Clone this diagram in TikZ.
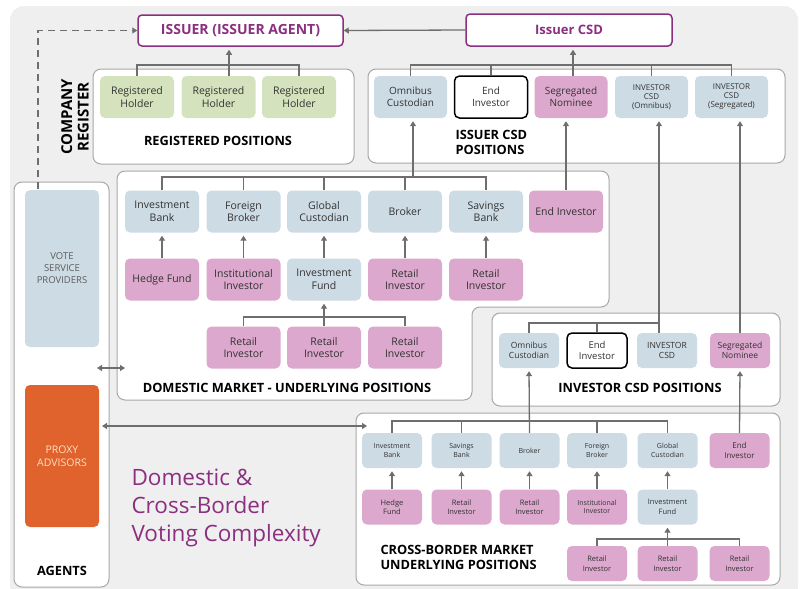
\documentclass[tikz,border=0pt]{standalone}
\usepackage{fontspec}
\setmainfont{Open Sans}
\usetikzlibrary{arrows.meta}
\definecolor{bggray}{HTML}{EFEFEF}
\definecolor{panelline}{HTML}{A8A8A8}
\definecolor{boxblue}{HTML}{CDDBE5}
\definecolor{boxpink}{HTML}{DCA8CD}
\definecolor{boxgreen}{HTML}{D4E3BD}
\definecolor{proxyorange}{HTML}{E0632E}
\definecolor{issuerpurple}{HTML}{8B2F80}
\definecolor{linegray}{HTML}{6E6E6E}
\definecolor{boxtext}{HTML}{333333}
\tikzset{
  every picture/.style={x=1pt,y=-1pt},
  hbox/.style={rounded corners=5pt, minimum width=74pt, minimum height=42pt, align=center, inner sep=1pt, text=boxtext, font=\fontsize{10.5}{12.5}\selectfont},
  sbox/.style={hbox, minimum width=60pt, minimum height=35pt, font=\fontsize{7}{8.5}\selectfont},
  blu/.style={fill=boxblue},
  pnk/.style={fill=boxpink},
  grn/.style={fill=boxgreen},
  endinv/.style={fill=white, draw=black, line width=1.5pt},
  topbox/.style={draw=issuerpurple, line width=1.5pt, fill=white, rounded corners=4pt, text=issuerpurple, font=\fontsize{13}{15}\selectfont\bfseries},
  panel/.style={draw=panelline, line width=1pt, fill=white, rounded corners=8pt},
  lbl/.style={font=\fontsize{12.8}{15}\selectfont\bfseries, text=black, align=left},
  link/.style={draw=linegray, line width=1.3pt},
  uparr/.style={link, -{Triangle[width=6pt,length=5pt]}, shorten >=3pt},
  twoarr/.style={link, {Triangle[width=6pt,length=5pt]}-{Triangle[width=6pt,length=5pt]}},
}
\begin{document}
\begin{tikzpicture}
\useasboundingbox (0,0) rectangle (804,589);
\fill[bggray, rounded corners=14pt] (10,6) rectangle (798,600);

% panels
\draw[panel] (93,69) rectangle (354,164);
\draw[panel] (368,69) rectangle (785,163);
\draw[panel] (14,182) rectangle (109,587);
\draw[panel] (117,171) -- (609,171) -- (609,307) -- (472,307) -- (472,400) -- (117,400) -- cycle;
\draw[panel] (492,313) rectangle (780,406);
\draw[panel] (356,413) rectangle (780,585);

% top
\node[topbox, minimum width=205pt, minimum height=31pt, font=\fontsize{14}{16}\selectfont\bfseries] (iss) at (240.5,30.5) {ISSUER (ISSUER AGENT)};
\node[topbox, minimum width=206pt, minimum height=32pt] (icsd) at (569,30) {Issuer CSD};
\draw[uparr, shorten >=0pt] (icsd.west) -- (iss.east);

% company register
\node[hbox, grn] (rh1) at (137,97) {Registered\\Holder};
\node[hbox, grn] (rh2) at (218.5,97) {Registered\\Holder};
\node[hbox, grn] (rh3) at (299,97) {Registered\\Holder};
\node[lbl] (regpos) at (218,141) {REGISTERED POSITIONS};
\node[lbl, rotate=90, align=center, font=\fontsize{15}{16.5}\selectfont\bfseries] (compreg) at (75,117) {COMPANY\\REGISTER};
\coordinate (rt) at (229,65);
\draw[link] (rh1.north) -- (rh1.north |- rt) -- (rh3.north |- rt) -- (rh3.north);
\draw[uparr] (rh2.north -| rt) -- (iss.south -| rt);

% issuer csd positions
\node[hbox, blu, minimum width=73pt, font=\fontsize{10}{12}\selectfont] (omc) at (410.5,97) {Omnibus\\Custodian};
\node[hbox, endinv, minimum width=73pt, font=\fontsize{10}{12}\selectfont] (eiv) at (491,97) {End\\Investor};
\node[hbox, pnk, minimum width=73pt, font=\fontsize{10}{12}\selectfont] (sgn) at (571,97) {Segregated\\Nominee};
\node[hbox, blu, minimum width=73pt, font=\fontsize{8}{9}\selectfont] (icso) at (651.5,97) {INVESTOR\\CSD\\(Omnibus)};
\node[hbox, blu, minimum width=73pt, font=\fontsize{8}{9}\selectfont] (icss) at (731.5,97) {INVESTOR\\CSD\\(Segregated)};
\node[lbl, anchor=west] (icsdpos) at (452,142) {ISSUER CSD\\POSITIONS};
\coordinate (ct) at (573,65);
\draw[link] (omc.north) -- (omc.north |- ct) -- (icss.north |- ct) -- (icss.north);
\draw[link] (eiv.north) -- (eiv.north |- ct);
\draw[link] (icso.north) -- (icso.north |- ct);
\draw[uparr] (sgn.north -| ct) -- (icsd.south -| ct);

% agents
\node[hbox, blu, minimum height=157pt, font=\fontsize{9.5}{12}\selectfont, text=boxtext!80] (vsp) at (62,268.5) {VOTE\\SERVICE\\PROVIDERS};
\node[hbox, fill=proxyorange, minimum height=142pt, font=\fontsize{10.5}{13}\selectfont, text=orange!25] (pxa) at (62,456) {PROXY\\ADVISORS};
\node[lbl] (agents) at (62,571) {AGENTS};
\coordinate (dstart) at (38,189);
\draw[link, dash pattern=on 7pt off 5pt, -{Triangle[width=6pt,length=5pt]}] (dstart) |- (iss.west);

% domestic market
\node[hbox, blu] (dib) at (162,211.5) {Investment\\Bank};
\node[hbox, blu] (dfb) at (243.5,211.5) {Foreign\\Broker};
\node[hbox, blu] (dgc) at (324,211.5) {Global\\Custodian};
\node[hbox, blu] (dbr) at (405,211.5) {Broker};
\node[hbox, blu] (dsb) at (486,211.5) {Savings\\Bank};
\node[hbox, pnk] (dei) at (566,211.5) {End Investor};
\node[hbox, pnk] (dhf) at (162,279.5) {Hedge Fund};
\node[hbox, pnk] (dii) at (243.5,279.5) {Institutional\\Investor};
\node[hbox, blu] (dif) at (324,279.5) {Investment\\Fund};
\node[hbox, pnk] (dri1) at (405,279.5) {Retail\\Investor};
\node[hbox, pnk] (dri2) at (486,279.5) {Retail\\Investor};
\node[hbox, pnk] (dr1) at (243.5,347.5) {Retail\\Investor};
\node[hbox, pnk] (dr2) at (324,347.5) {Retail\\Investor};
\node[hbox, pnk] (dr3) at (405,347.5) {Retail\\Investor};
\node[lbl] (dompos) at (287,388) {DOMESTIC MARKET - UNDERLYING POSITIONS};
\coordinate (dt) at (413,177);
\draw[link] (dib.north) -- (dib.north |- dt) -- (dsb.north |- dt) -- (dsb.north);
\draw[link] (dfb.north) -- (dfb.north |- dt);
\draw[link] (dgc.north) -- (dgc.north |- dt);
\draw[link] (dbr.north) -- (dbr.north |- dt);
\draw[uparr] (dt) -- (omc.south -| dt);
\draw[uparr] (dei.north) -- (dei.north |- sgn.south);
\draw[uparr] (dhf) -- (dib);
\draw[uparr] (dii) -- (dfb);
\draw[uparr] (dif) -- (dgc);
\draw[uparr] (dri1) -- (dbr);
\draw[uparr] (dri2) -- (dsb);
\coordinate (dt3) at (324,317);
\draw[link] (dr1.north) -- (dr1.north |- dt3) -- (dr3.north |- dt3) -- (dr3.north);
\draw[uparr] (dr2) -- (dif);

% investor csd positions
\node[sbox, blu, font=\fontsize{8.5}{10.5}\selectfont] (iomc) at (529,350.5) {Omnibus\\Custodian};
\node[sbox, endinv, font=\fontsize{9.5}{11.5}\selectfont] (iei) at (597,350.5) {End\\Investor};
\node[sbox, blu, font=\fontsize{8.5}{10.5}\selectfont] (icsdn) at (667,350.5) {INVESTOR\\CSD};
\node[sbox, pnk, font=\fontsize{8.5}{10.5}\selectfont] (isgn) at (740,350.5) {Segregated\\Nominee};
\node[lbl] (invpos) at (640,388) {INVESTOR CSD POSITIONS};
\coordinate (it) at (659,323);
\draw[link] (iomc.north) -- (iomc.north |- it) -- (it);
\draw[link] (iei.north) -- (iei.north |- it);
\draw[uparr] (icsdn.north -| it) -- (icso.south -| it);
\draw[uparr] (isgn.north) -- (isgn.north |- icss.south);

% cross-border market
\node[sbox, blu] (xib) at (392,450.5) {Investment\\Bank};
\node[sbox, blu] (xsb) at (461.5,450.5) {Savings\\Bank};
\node[sbox, blu] (xbr) at (529.5,450.5) {Broker};
\node[sbox, blu] (xfb) at (597,450.5) {Foreign\\Broker};
\node[sbox, blu] (xgc) at (667.5,450.5) {Global\\Custodian};
\node[sbox, pnk, font=\fontsize{8}{10}\selectfont] (xei) at (739.5,450.5) {End\\Investor};
\node[sbox, pnk, font=\fontsize{7.5}{9.5}\selectfont] (xhf) at (392,507) {Hedge\\Fund};
\node[sbox, pnk, font=\fontsize{7.5}{9.5}\selectfont] (xri1) at (461.5,507) {Retail\\Investor};
\node[sbox, pnk, font=\fontsize{7.5}{9.5}\selectfont] (xri2) at (529.5,507) {Retail\\Investor};
\node[sbox, pnk] (xii) at (597,507) {Institutional\\Investor};
\node[sbox, blu, font=\fontsize{7.5}{9.5}\selectfont] (xif) at (667.5,507) {Investment\\Fund};
\node[sbox, pnk, font=\fontsize{7.5}{9.5}\selectfont] (xr1) at (597,563.5) {Retail\\Investor};
\node[sbox, pnk, font=\fontsize{7.5}{9.5}\selectfont] (xr2) at (667.5,563.5) {Retail\\Investor};
\node[sbox, pnk, font=\fontsize{7.5}{9.5}\selectfont] (xr3) at (739.5,563.5) {Retail\\Investor};
\node[lbl, anchor=west] (xpos) at (377,557) {CROSS-BORDER MARKET\\UNDERLYING POSITIONS};
\coordinate (xt) at (530,421);
\draw[link] (xib.north) -- (xib.north |- xt) -- (xgc.north |- xt) -- (xgc.north);
\draw[link] (xsb.north) -- (xsb.north |- xt);
\draw[link] (xfb.north) -- (xfb.north |- xt);
\draw[uparr] (xbr.north) -- (iomc.south);
\draw[uparr] (xei.north) -- (isgn.south);
\draw[uparr] (xhf) -- (xib);
\draw[uparr] (xri1) -- (xsb);
\draw[uparr] (xri2) -- (xbr);
\draw[uparr] (xii) -- (xfb);
\draw[uparr] (xif) -- (xgc);
\coordinate (xt3) at (667.5,539);
\draw[link] (xr1.north) -- (xr1.north |- xt3) -- (xr3.north |- xt3) -- (xr3.north);
\draw[uparr] (xr2) -- (xif);

% agents arrows
\coordinate (a1) at (97,368);
\coordinate (a2) at (125,368);
\draw[twoarr] (a1) -- (a2);
\coordinate (b1) at (102,426);
\coordinate (b2) at (367,426);
\draw[twoarr] (b1) -- (b2);

% title
\node[anchor=north west, align=left, text=issuerpurple, font=\fontsize{22.5}{28}\selectfont] (title) at (128,465) {Domestic \&\\Cross-Border\\Voting Complexity};
\end{tikzpicture}
\end{document}
